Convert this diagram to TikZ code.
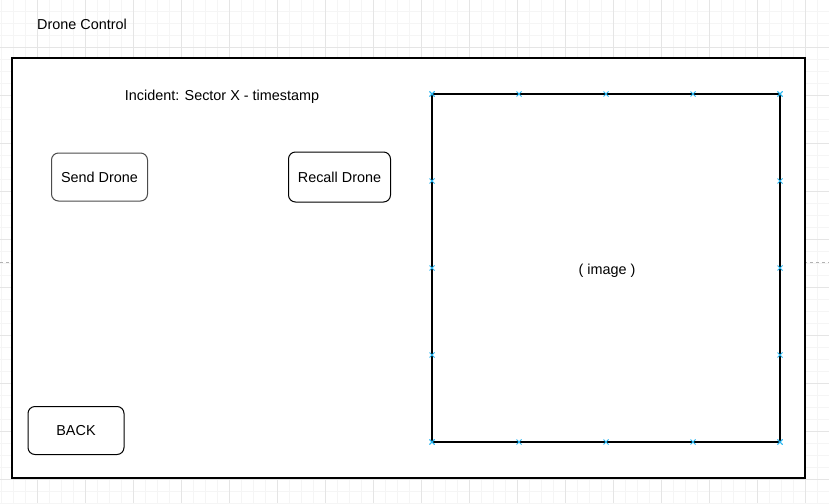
\documentclass[tikz,border=0pt]{standalone}
\usepackage{fontspec}
\setmainfont{Liberation Sans}
\definecolor{handleblue}{HTML}{29B6F2}
\tikzset{
  minorgrid/.style={draw=black!4, line width=0.8pt},
  majorgrid/.style={draw=black!10, line width=0.8pt},
  txt/.style={font=\fontsize{14.4}{17}\selectfont, inner sep=0pt},
  btn/.style={draw, rounded corners=7pt, line width=1pt, inner sep=0pt, font=\fontsize{14.4}{17}\selectfont},
  handle/.style={draw=handleblue, line width=1pt}
}
\begin{document}
\begin{tikzpicture}[x=1pt,y=-1pt]
	\useasboundingbox (0,0) rectangle (829,503);
	\fill[white] (0,0) rectangle (829,503);
	% grid
	\foreach \x in {1,13,...,829} \draw[minorgrid] (\x,0) -- (\x,503);
	\foreach \y in {11,23,...,503} \draw[minorgrid] (0,\y) -- (829,\y);
	\foreach \x in {37,85,...,829} \draw[majorgrid] (\x,0) -- (\x,503);
	\foreach \y in {47,95,...,503} \draw[majorgrid] (0,\y) -- (829,\y);
	\draw[black!30, dashed, line width=0.8pt] (0,262) -- (829,262);
	% screen
	\node[txt, anchor=west] (title) at (37,24) {Drone Control};
	\draw[fill=white, line width=1.3pt] (12,58) rectangle (805,478);
	\node[txt] (incident) at (222,96.5) {Incident: Sector X - timestamp};
	\node[btn, draw=black!70, minimum width=96pt, minimum height=48pt] (send) at (99.5,177) {Send Drone};
	\node[btn, minimum width=102pt, minimum height=50pt] (recall) at (339.5,177) {Recall Drone};
	\node[btn, minimum width=96pt, minimum height=48pt] (back) at (76,430.5) {BACK};
	\draw[line width=1.3pt] (432,94) rectangle (780,442);
	\node[txt] (image) at (607,270.5) {( image )};
	% handles
	\foreach \p in {0,1,2,3,4}{
		\foreach \q/\r in {432/94, 432/442}{
			\draw[handle] (\q+87*\p-2.5,\r-2.5) -- ++(5,5) (\q+87*\p-2.5,\r+2.5) -- ++(5,-5);
		}
		\foreach \q/\r in {432/94, 780/94}{
			\draw[handle] (\q-2.5,\r+87*\p-2.5) -- ++(5,5) (\q-2.5,\r+87*\p+2.5) -- ++(5,-5);
		}
	}
\end{tikzpicture}
\end{document}
